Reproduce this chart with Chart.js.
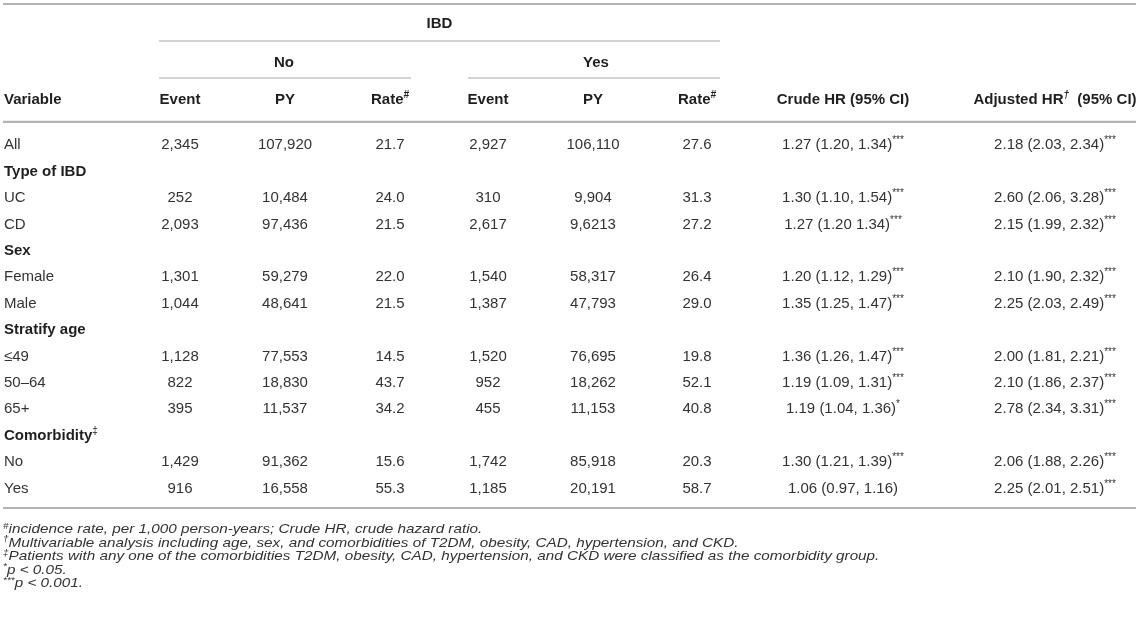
<!DOCTYPE html>
<html>
<head>
<meta charset="utf-8">
<script src="https://cdn.jsdelivr.net/npm/chart.js@4.4.1/dist/chart.umd.min.js"></script>
<style>
  html, body { margin: 0; padding: 0; background: #ffffff; }
  #wrap { width: 1145px; height: 620px; position: relative; overflow: hidden; }
  canvas { display: block; }
</style>
</head>
<body>
<div id="wrap"><canvas id="c" width="1145" height="620"></canvas></div>
<script>
// ---------------- DATA ----------------
const rowLabels = ['All', 'Type of IBD', 'UC', 'CD', 'Sex', 'Female', 'Male', 'Stratify age', '≤49', '50–64', '65+', 'Comorbidity', 'No', 'Yes'];
const groupRows = ['Type of IBD', 'Sex', 'Stratify age', 'Comorbidity'];
const groupMarks = { 'Comorbidity': '‡' };

const noEvent  = ['2,345', null, '252', '2,093', null, '1,301', '1,044', null, '1,128', '822', '395', null, '1,429', '916'];
const noPY     = ['107,920', null, '10,484', '97,436', null, '59,279', '48,641', null, '77,553', '18,830', '11,537', null, '91,362', '16,558'];
const noRate   = ['21.7', null, '24.0', '21.5', null, '22.0', '21.5', null, '14.5', '43.7', '34.2', null, '15.6', '55.3'];
const yesEvent = ['2,927', null, '310', '2,617', null, '1,540', '1,387', null, '1,520', '952', '455', null, '1,742', '1,185'];
const yesPY    = ['106,110', null, '9,904', '9,6213', null, '58,317', '47,793', null, '76,695', '18,262', '11,153', null, '85,918', '20,191'];
const yesRate  = ['27.6', null, '31.3', '27.2', null, '26.4', '29.0', null, '19.8', '52.1', '40.8', null, '20.3', '58.7'];
const crudeHR  = ['1.27 (1.20, 1.34)', null, '1.30 (1.10, 1.54)', '1.27 (1.20 1.34)', null, '1.20 (1.12, 1.29)', '1.35 (1.25, 1.47)', null, '1.36 (1.26, 1.47)', '1.19 (1.09, 1.31)', '1.19 (1.04, 1.36)', null, '1.30 (1.21, 1.39)', '1.06 (0.97, 1.16)'];
const crudeSig = ['***', null, '***', '***', null, '***', '***', null, '***', '***', '*', null, '***', ''];
const adjHR    = ['2.18 (2.03, 2.34)', null, '2.60 (2.06, 3.28)', '2.15 (1.99, 2.32)', null, '2.10 (1.90, 2.32)', '2.25 (2.03, 2.49)', null, '2.00 (1.81, 2.21)', '2.10 (1.86, 2.37)', '2.78 (2.34, 3.31)', null, '2.06 (1.88, 2.26)', '2.25 (2.01, 2.51)'];
const adjSig   = ['***', null, '***', '***', null, '***', '***', null, '***', '***', '***', null, '***', '***'];

const spanHeader = 'IBD';
const groupHeaders = ['No', 'Yes'];
const columnHeaders = ['Variable', 'Event', 'PY', 'Rate', 'Event', 'PY', 'Rate', 'Crude HR (95% CI)', 'Adjusted HR'];
const columnHeaderMarks = [null, null, null, '#', null, null, '#', null, '†'];
const columnHeaderTails = [null, null, null, null, null, null, null, null, '  (95% CI)'];

const footnoteMarks = ['#', '†', '‡', '*', '***'];
const footnoteTexts = [
  'incidence rate, per 1,000 person-years; Crude HR, crude hazard ratio.',
  'Multivariable analysis including age, sex, and comorbidities of T2DM, obesity, CAD, hypertension, and CKD.',
  'Patients with any one of the comorbidities T2DM, obesity, CAD, hypertension, and CKD were classified as the comorbidity group.',
  'p < 0.05.',
  'p < 0.001.'
];

// ---------------- LAYOUT / STYLE ----------------
const FAM = '"Liberation Sans", Arial, Helvetica, sans-serif';
const font = (size, bold, italic) => (italic ? 'italic ' : '') + (bold ? 'bold ' : '') + size + 'px ' + FAM;
const TEXT = '#333333';
const BOLDTEXT = '#1f1f1f';
const RULE = '#b4b4b4';
const THIN = '#a8a8a8';
const FOOT_STRETCH = 1.175;

// column anchors on the (hidden) x scale, and their alignment
const columnLayout = [
  { at: 4,    align: 'left' },
  { at: 180,  align: 'center' },
  { at: 285,  align: 'center' },
  { at: 390,  align: 'center' },
  { at: 488,  align: 'center' },
  { at: 593,  align: 'center' },
  { at: 697,  align: 'center' },
  { at: 843,  align: 'center' },
  { at: 1055, align: 'center' }
];
const spanLayout = { from: 159, to: 720 };
const groupLayout = [{ from: 159, to: 411 }, { from: 468, to: 720 }];
const ruleLayout = { from: 3, to: 1136 };

function drawRich(ctx, segs, x, yMid, align, sx) {
  sx = sx || 1;
  let total = 0;
  segs.forEach(s => { ctx.font = s.font; s.w = ctx.measureText(s.t).width; total += s.w; });
  total *= sx;
  let start = align === 'left' ? x : (align === 'right' ? x - total : x - total / 2);
  ctx.save();
  ctx.translate(start, 0);
  ctx.scale(sx, 1);
  ctx.textAlign = 'left';
  ctx.textBaseline = 'alphabetic';
  let cx = 0;
  segs.forEach(s => {
    ctx.font = s.font;
    ctx.fillStyle = s.color || TEXT;
    ctx.fillText(s.t, cx, yMid + (s.base || 5.3) + (s.dy || 0));
    cx += s.w;
  });
  ctx.restore();
}

function cellSegs(text, mark, bold) {
  const segs = [{ t: text, font: font(15, bold, false), color: bold ? BOLDTEXT : TEXT }];
  if (mark) segs.push({ t: mark, font: font(10, false, false), dy: -6, color: bold ? BOLDTEXT : TEXT });
  return segs;
}

const bodyColumns = [rowLabels, noEvent, noPY, noRate, yesEvent, yesPY, yesRate, crudeHR, adjHR];
const bodySigs = [null, null, null, null, null, null, null, crudeSig, adjSig];

const datasets = bodyColumns.map((vals, ci) => ({
  label: 'col' + ci,
  align: columnLayout[ci].align,
  pointRadius: 0,
  showLine: false,
  clip: false,
  data: vals.map((v, ri) => {
    if (v === null) return null;
    let segs;
    if (ci === 0) {
      const isGroup = groupRows.includes(v);
      segs = cellSegs(v, groupMarks[v] || null, isGroup);
    } else {
      segs = cellSegs(v, bodySigs[ci] ? bodySigs[ci][ri] : null, false);
    }
    return { x: columnLayout[ci].at, y: rowLabels[ri], segs };
  }).filter(d => d !== null)
}));

const tablePlugin = {
  id: 'tableText',
  afterDatasetsDraw(chart) {
    const { ctx, chartArea, scales } = chart;
    const xs = scales.x;
    const top = chartArea.top, bottom = chartArea.bottom;
    ctx.save();

    const hRule = (y, from, to, w, color) => {
      ctx.beginPath();
      ctx.strokeStyle = color;
      ctx.lineWidth = w;
      ctx.moveTo(xs.getPixelForValue(from), y);
      ctx.lineTo(xs.getPixelForValue(to), y);
      ctx.stroke();
    };
    hRule(top - 126.8, ruleLayout.from, ruleLayout.to, 2.2, RULE);
    hRule(top - 9.0, ruleLayout.from, ruleLayout.to, 2.2, RULE);
    hRule(bottom + 7.6, ruleLayout.from, ruleLayout.to, 2.2, RULE);
    hRule(top - 89.8, spanLayout.from, spanLayout.to, 1.2, THIN);
    groupLayout.forEach(g => hRule(top - 52.8, g.from, g.to, 1.2, THIN));

    drawRich(ctx, [{ t: spanHeader, font: font(15, true, false), color: BOLDTEXT }],
      xs.getPixelForValue((spanLayout.from + spanLayout.to) / 2), top - 107.8, 'center');
    groupHeaders.forEach((g, i) => {
      drawRich(ctx, [{ t: g, font: font(15, true, false), color: BOLDTEXT }],
        xs.getPixelForValue((groupLayout[i].from + groupLayout[i].to) / 2 + (i === 1 ? 2 : -1)), top - 68.8, 'center');
    });
    columnHeaders.forEach((h, ci) => {
      const segs = [{ t: h, font: font(15, true, false), color: BOLDTEXT }];
      if (columnHeaderMarks[ci]) segs.push({ t: columnHeaderMarks[ci], font: font(10, true, true), dy: -6, color: BOLDTEXT });
      if (columnHeaderTails[ci]) segs.push({ t: columnHeaderTails[ci], font: font(15, true, false), color: BOLDTEXT });
      drawRich(ctx, segs, xs.getPixelForValue(columnLayout[ci].at), top - 31.8, columnLayout[ci].align);
    });

    chart.data.datasets.forEach((ds, di) => {
      const meta = chart.getDatasetMeta(di);
      meta.data.forEach((el, i) => {
        const raw = ds.data[i];
        if (!raw) return;
        drawRich(ctx, raw.segs, el.x, el.y, ds.align);
      });
    });

    footnoteTexts.forEach((t, i) => {
      drawRich(ctx, [
        { t: footnoteMarks[i], font: font(8.5, false, true), dy: -4.5, base: 4.4 },
        { t: t, font: font(13, false, true), base: 4.4 }
      ], xs.getPixelForValue(3), bottom + 28.6 + i * 13.5, 'left', FOOT_STRETCH);
    });

    ctx.restore();
  }
};

new Chart(document.getElementById('c'), {
  type: 'scatter',
  data: { datasets },
  options: {
    responsive: false,
    animation: false,
    events: [],
    layout: { padding: { top: 130.8, bottom: 119.6, left: 0, right: 0 } },
    plugins: { legend: { display: false }, tooltip: { enabled: false }, title: { display: false } },
    scales: {
      x: { type: 'linear', min: 0, max: 1145, display: false },
      y: { type: 'category', labels: rowLabels, offset: true, display: false }
    }
  },
  plugins: [tablePlugin]
});
</script>
</body>
</html>
